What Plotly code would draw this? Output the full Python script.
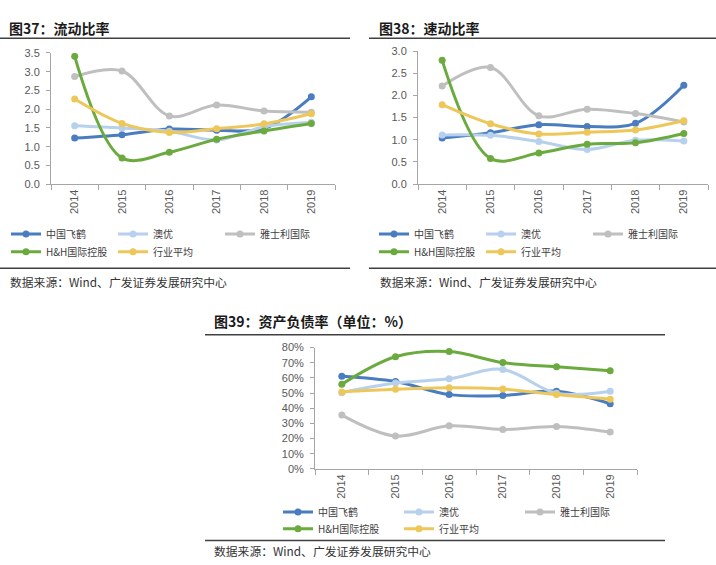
import plotly.graph_objects as go

years = ["2014", "2015", "2016", "2017", "2018", "2019"]
series_names = ["中国飞鹤", "澳优", "雅士利国际", "H&H国际控股", "行业平均"]
colors = ["#4A7DC0", "#B7D0EC", "#BFBFBF", "#6BAA3E", "#EEC75A"]

# 图37 流动比率
current_ratio = {
    "中国飞鹤": [1.23, 1.32, 1.47, 1.44, 1.48, 2.33],
    "澳优": [1.56, 1.50, 1.41, 1.18, 1.53, 1.65],
    "雅士利国际": [2.87, 3.02, 1.82, 2.11, 1.95, 1.92],
    "H&H国际控股": [3.41, 0.70, 0.85, 1.20, 1.42, 1.62],
    "行业平均": [2.27, 1.62, 1.38, 1.48, 1.61, 1.88],
}
# 图38 速动比率
quick_ratio = {
    "中国飞鹤": [1.04, 1.16, 1.34, 1.30, 1.37, 2.23],
    "澳优": [1.11, 1.10, 0.96, 0.78, 0.99, 0.97],
    "雅士利国际": [2.21, 2.63, 1.54, 1.69, 1.59, 1.40],
    "H&H国际控股": [2.79, 0.58, 0.70, 0.90, 0.93, 1.14],
    "行业平均": [1.79, 1.36, 1.13, 1.17, 1.22, 1.43],
}
# 图39 资产负债率
debt_ratio = {
    "中国飞鹤": [0.611, 0.576, 0.490, 0.484, 0.512, 0.430],
    "澳优": [0.503, 0.566, 0.594, 0.656, 0.499, 0.512],
    "雅士利国际": [0.355, 0.217, 0.284, 0.260, 0.280, 0.243],
    "H&H国际控股": [0.559, 0.740, 0.774, 0.701, 0.673, 0.647],
    "行业平均": [0.508, 0.525, 0.535, 0.527, 0.490, 0.460],
}

W, H = 716, 565
def px_x(v): return v / W
def px_y(v): return 1 - v / H

CJK = "Noto Sans CJK SC"
LAT = "Liberation Sans, Arial"
TICK_COLOR = "#595959"

charts = [
    dict(data=current_ratio, ax="", x0=51, x1=335, ytop=48, ybot=182, rng=[0, 3.5], dtick=0.5, fmt=".1f",
         title="<b>图37：流动比率</b>", tx=7, ty=22, lines=[(0, 350, 33), (0, 350, 268)], src=(8, 281),
         leg_x=6, leg_rows=(233, 251), ent=62),
    dict(data=quick_ratio, ax="2", x0=418, x1=708, ytop=46, ybot=182, rng=[0, 3.0], dtick=0.5, fmt=".1f",
         title="<b>图38：速动比率</b>", tx=377, ty=22, lines=[(369, 716, 33), (369, 716, 268)], src=(378, 281),
         leg_x=374, leg_rows=(233, 251), ent=62),
    dict(data=debt_ratio, ax="3", x0=315, x1=637, ytop=349, ybot=473, rng=[0, 0.8], dtick=0.1, fmt=".0%",
         title="<b>图39：资产负债率（单位：%）</b>", tx=212, ty=322, lines=[(205, 665, 336), (205, 665, 546)],
         src=(212, 556), leg_x=278, leg_rows=(517, 534), ent=76),
]

fig = go.Figure()
shapes, annotations = [], []
layout = {}
legend_idx = 0
for c in charts:
    ax = c["ax"]
    xa, ya = "x" + ax, "y" + ax
    legA = "legend" if legend_idx == 0 else f"legend{legend_idx + 1}"
    legB = f"legend{legend_idx + 2}"
    for i, name in enumerate(series_names):
        leg = legA if i < 3 else legB
        fig.add_trace(go.Scatter(
            x=years, y=c["data"][name], name=name, mode="lines+markers",
            line=dict(color=colors[i], width=3, shape="spline", smoothing=1.0),
            marker=dict(color=colors[i], size=7, symbol="circle"),
            xaxis=xa, yaxis=ya, legend=leg, showlegend=True,
        ))
    for j, (leg, row_y) in enumerate(zip([legA, legB], c["leg_rows"])):
        layout[leg] = dict(
            orientation="h", x=px_x(c["leg_x"]), y=px_y(row_y), xanchor="left", yanchor="middle",
            font=dict(family=CJK, size=10, color="#404040"), bgcolor="rgba(0,0,0,0)",
            entrywidth=c["ent"], entrywidthmode="pixels", itemwidth=30, tracegroupgap=0,
        )
    legend_idx += 2
    layout["xaxis" + ax] = dict(
        domain=[px_x(c["x0"]), px_x(c["x1"])], anchor=ya, type="category", range=[-0.5, 5.5],
        showline=True, linecolor="#A6A6A6", linewidth=1, ticks="outside", tickson="boundaries",
        ticklen=5, tickcolor="#A6A6A6", tickangle=-90, showgrid=False, zeroline=False,
        tickfont=dict(family=LAT, size=11, color=TICK_COLOR),
    )
    layout["yaxis" + ax] = dict(
        domain=[px_y(c["ybot"]), px_y(c["ytop"])], anchor=xa, range=c["rng"], dtick=c["dtick"],
        tickformat=c["fmt"], showline=True, linecolor="#A6A6A6", linewidth=1, ticks="outside",
        ticklen=4, tickcolor="#A6A6A6", showgrid=False, zeroline=False, ticklabelstandoff=4,
        tickfont=dict(family=LAT, size=11, color=TICK_COLOR),
    )
    for (lx0, lx1, ly) in c["lines"]:
        shapes.append(dict(type="line", xref="paper", yref="paper", x0=px_x(lx0), x1=px_x(lx1),
                           y0=px_y(ly), y1=px_y(ly), line=dict(color="#404040", width=1.5)))
    annotations.append(dict(text=c["title"], xref="paper", yref="paper", x=px_x(c["tx"]), y=px_y(c["ty"]),
                            xanchor="left", yanchor="middle", showarrow=False,
                            font=dict(family=CJK, size=14, color="#1A1A1A")))
    annotations.append(dict(text="数据来源：Wind、广发证券发展研究中心", xref="paper", yref="paper",
                            x=px_x(c["src"][0]), y=px_y(c["src"][1]), xanchor="left", yanchor="middle",
                            showarrow=False, font=dict(family=CJK, size=11.8, color="#333333")))

fig.update_layout(
    width=W, height=H, margin=dict(l=0, r=0, t=0, b=0),
    paper_bgcolor="white", plot_bgcolor="white",
    shapes=shapes, annotations=annotations, **layout,
)
fig.write_html("out.html", config={"displayModeBar": False},
               post_script="document.body.style.margin='0';document.body.style.overflow='hidden';")
